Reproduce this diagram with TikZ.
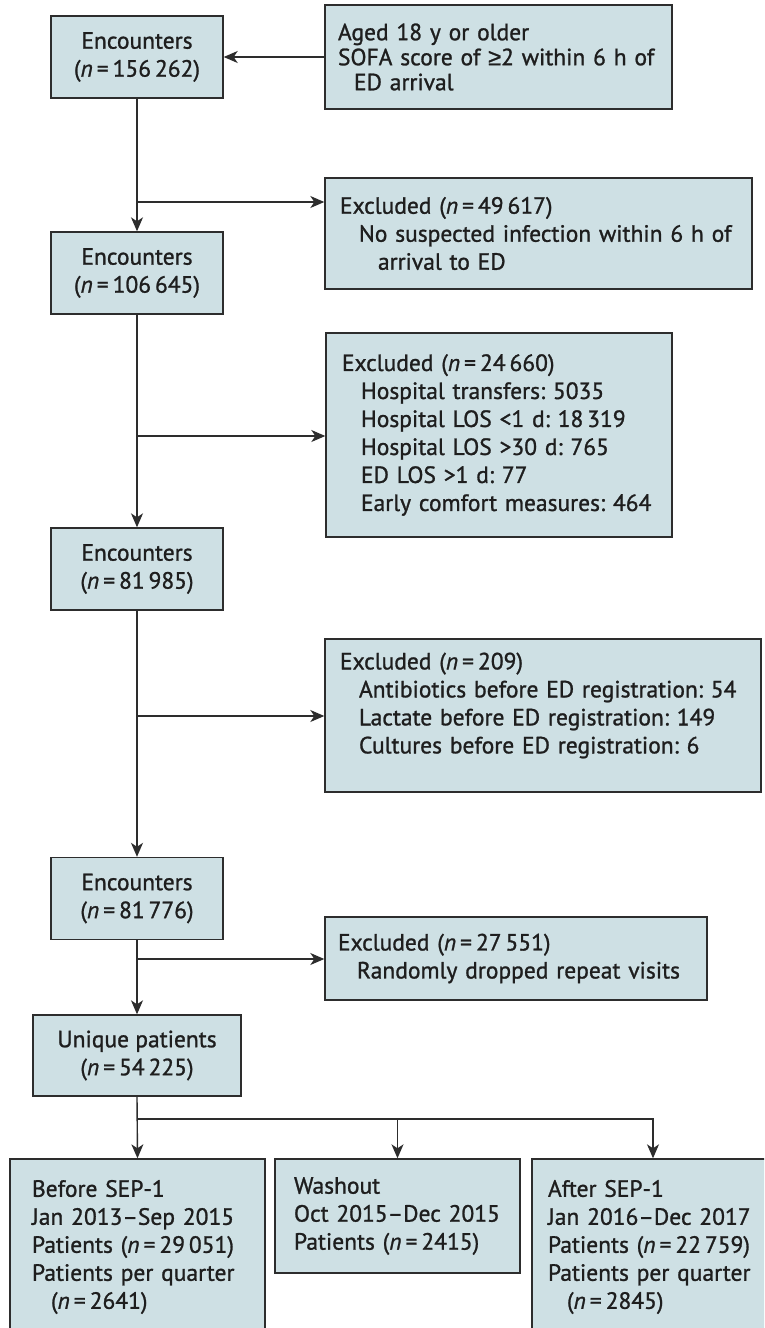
\documentclass[tikz,border=0pt]{standalone}
\usepackage{fontspec}
\setmainfont{PT Sans}[FakeBold=1.1]
\newfontfamily\symf{Liberation Sans}[FakeBold=1.1]
\usetikzlibrary{arrows.meta}
\definecolor{boxfill}{RGB}{206,224,228}
\definecolor{edge}{RGB}{45,45,45}
\definecolor{ink}{RGB}{30,30,30}
\newcommand\fsz{\fontsize{23.5}{28}\selectfont}
\newcommand\ind{\hspace*{19pt}}
\newcommand\nn{\textit{n}\hspace{4pt}=\hspace{4pt}}
\frenchspacing
\begin{document}
\frenchspacing
\begin{tikzpicture}[x=1pt,y=-1pt,
  box/.style={draw=edge, fill=boxfill, line width=1.4pt, inner ysep=0pt, text=ink, font=\fsz\frenchspacing},
  cbox/.style={box, align=center, inner xsep=0pt, minimum width=172pt, minimum height=82pt},
  arr/.style={draw=edge, line width=1.4pt, -{Stealth[length=14pt,width=12pt,inset=4pt]}},
  ln/.style={draw=edge, line width=1.4pt}]
\fill[white] (0,0) rectangle (764,1328);
\clip (0,0) rectangle (764,1328);
\path[use as bounding box] (0,0) rectangle (764,1328);

% main column
\node[cbox] (enc1) at (137,57) {Encounters\\(\nn156\,262)};
\node[cbox] (enc2) at (137,273) {Encounters\\(\nn106\,645)};
\node[cbox] (enc3) at (137,569) {Encounters\\(\nn81\,985)};
\node[cbox] (enc4) at (137,898.5) {Encounters\\(\nn81\,776)};
\node[cbox, minimum width=208pt, minimum height=81pt] (uniq) at (137,1055.5) {Unique patients\\(\nn54\,225)};

% side boxes
\node[box, align=left, minimum width=347pt, text width=321pt, inner xsep=13pt, minimum height=104pt,
      font=\fontsize{23.5}{25}\selectfont] (crit) at (498.5,57)
  {Aged 18 y or older\\SOFA score of {\symf ≥}2 within 6 h of\\\hspace*{16pt}ED arrival};
\node[box, align=left, minimum width=427pt, text width=397pt, inner xsep=15pt, minimum height=111pt] (exc1) at (538.5,233.5)
  {Excluded (\nn49\,617)\\\ind No suspected infection within 6 h of\\\ind\ind arrival to ED};
\node[box, align=left, minimum width=346pt, text width=314pt, inner xsep=16pt, minimum height=204pt] (exc2) at (499,435)
  {Excluded (\nn24\,660)\\\ind Hospital transfers: 5035\\\ind Hospital LOS <1 d: 18\,319\\\ind Hospital LOS >30 d: 765\\\ind ED LOS >1 d: 77\\\ind Early comfort measures: 464};
\node[box, align=left, minimum width=436pt, text width=406pt, inner xsep=15pt, minimum height=153pt] (exc3) at (543,715.5)
  {Excluded (\nn209)\\\ind Antibiotics before ED registration: 54\\\ind Lactate before ED registration: 149\\\ind Cultures before ED registration: 6\\[-3pt]\mbox{}};
\node[box, align=left, minimum width=382pt, text width=356pt, inner xsep=13pt, minimum height=83pt] (exc4) at (516,958.5)
  {Excluded (\nn27\,551)\\\ind Randomly dropped repeat visits};

% bottom boxes
\node[box, align=left, minimum width=255pt, text width=211pt, inner xsep=22pt, minimum height=176pt] (b1) at (137.5,1247)
  {Before SEP-1\\Jan 2013–Sep 2015\\Patients (\nn29\,051)\\Patients per quarter\\\ind(\nn2641)};
\node[box, align=left, minimum width=245pt, text width=207pt, inner xsep=19pt, minimum height=114pt] (b2) at (397.5,1216)
  {Washout\\Oct 2015–Dec 2015\\Patients (\nn2415)};
\node[box, align=left, minimum width=242pt, text width=210pt, inner xsep=16pt, minimum height=176pt] (b3) at (653,1247)
  {After SEP-1\\Jan 2016–Dec 2017\\Patients (\nn22\,759)\\Patients per quarter\\\ind(\nn2845)};

% connectors
\draw[arr] (crit.west) -- (enc1.east);
\draw[arr] (enc1.south) -- (enc2.north);
\draw[arr] (enc2.south) -- (enc3.north);
\draw[arr] (enc3.south) -- (enc4.north);
\draw[arr] (enc4.south) -- (uniq.north);
\draw[arr] (uniq.south) -- (b1.north);

\coordinate (j1) at (137,202);
\coordinate (j2) at (137,436);
\coordinate (j3) at (137,716);
\coordinate (j4) at (137,959);
\coordinate (br) at (137,1119);
\draw[arr] (j1) -- (j1 -| exc1.west);
\draw[arr] (j2) -- (j2 -| exc2.west);
\draw[arr] (j3) -- (j3 -| exc3.west);
\draw[arr] (j4) -- (j4 -| exc4.west);
\draw[arr] (br) -| (b3.north);
\draw[arr] (br -| b2.north) -- (b2.north);
\end{tikzpicture}
\end{document}
